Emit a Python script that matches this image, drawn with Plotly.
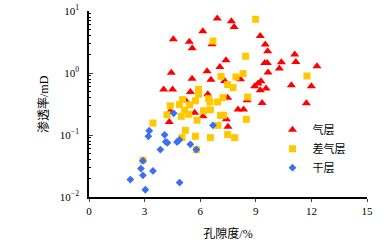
import plotly.graph_objects as go

# 气层 (gas layer)
gas_x = [4.55, 5.41, 5.57, 6.14, 6.92, 7.68, 7.83, 6.64, 9.24, 9.51, 9.64, 4.44, 5.56, 6.37, 6.58,
         7.06, 7.39, 4.03, 4.51, 5.47, 6.41, 5.70, 6.15, 4.33, 7.41, 7.50, 7.48, 8.04, 8.34, 8.53,
         8.17, 7.32, 8.94, 9.12, 9.28, 9.24, 9.55, 9.34, 9.48, 9.62, 9.66, 10.27, 10.38, 11.10,
         11.16, 12.30, 10.92, 12.00, 11.73, 4.39, 5.20]
gas_y = [3.50, 3.19, 2.50, 4.71, 7.54, 6.82, 5.52, 2.90, 3.95, 2.87, 2.24, 1.01, 0.806, 1.065, 0.777,
         1.25, 1.60, 0.540, 0.540, 0.494, 0.453, 0.228, 0.200, 0.162, 0.179, 0.136, 0.398, 0.257, 0.257, 0.363,
         0.791, 0.743, 0.610, 0.675, 0.735, 0.526, 0.560, 0.328, 1.45, 1.45, 1.015, 1.18, 1.49, 1.99,
         1.50, 1.28, 0.633, 0.610, 0.325, 0.241, 0.363]

# 差气层 (poor gas layer)
poor_x = [8.99, 6.69, 8.45, 8.31, 7.12, 7.93, 7.48, 7.77, 11.76, 5.91, 5.91, 6.45, 6.94, 7.23, 8.56,
          5.74, 5.05, 4.39, 4.87, 5.43, 6.52, 6.18, 6.55, 5.16, 5.38, 4.21, 4.98, 5.83, 7.09, 7.26,
          6.96, 8.49, 5.74, 6.55, 7.48, 7.86, 5.79, 3.45, 2.91, 5.20, 5.02]
poor_y = [7.35, 3.28, 1.86, 0.978, 0.885, 0.862, 0.650, 0.581, 0.895, 0.546, 0.453, 0.386, 0.341, 0.401, 0.410,
          0.356, 0.372, 0.296, 0.309, 0.307, 0.341, 0.246, 0.255, 0.250, 0.216, 0.212, 0.200, 0.173, 0.208, 0.208,
          0.143, 0.179, 0.0953, 0.0908, 0.1015, 0.0908, 0.0581, 0.156, 0.0391, 0.119, 0.0908]

# 干层 (dry layer)
dry_x = [4.57, 3.25, 3.20, 4.08, 4.14, 4.23, 4.75, 4.88, 5.47, 5.79, 3.85, 2.91, 2.80, 2.91, 3.45,
         2.23, 3.04, 4.89, 6.69]
dry_y = [0.224, 0.117, 0.0953, 0.1007, 0.0777, 0.0748, 0.0771, 0.0837, 0.0708, 0.0581, 0.0581, 0.0384,
         0.0287, 0.0224, 0.0263, 0.0191, 0.0131, 0.0171, 0.143]

x_ticks = [0, 3, 6, 9, 12, 15]
y_ticks = [0.01, 0.1, 1, 10]
y_ticktext = ["10<sup>−2</sup>", "10<sup>−1</sup>", "10<sup>0</sup>", "10<sup>1</sup>"]

SERIF = "Liberation Serif, Times New Roman, Noto Sans CJK SC, serif"

fig = go.Figure()
fig.add_trace(go.Scatter(x=gas_x, y=gas_y, mode="markers", name="气层",
                         marker=dict(symbol="triangle-up", size=8, color="#FF0000")))
fig.add_trace(go.Scatter(x=poor_x, y=poor_y, mode="markers", name="差气层",
                         marker=dict(symbol="square", size=7, color="#FFC800")))
fig.add_trace(go.Scatter(x=dry_x, y=dry_y, mode="markers", name="干层",
                         marker=dict(symbol="diamond", size=6, color="#3C6EF0")))

minor_vals = [k * 10 ** e for e in (-2, -1, 0) for k in range(2, 10)]

fig.update_layout(
    width=391, height=246,
    margin=dict(l=89, r=24, t=11, b=49),
    paper_bgcolor="white", plot_bgcolor="white",
    font=dict(family=SERIF, size=11, color="black"),
    showlegend=True,
    legend=dict(x=0.66, y=0.44, xanchor="left", yanchor="top",
                bgcolor="rgba(0,0,0,0)", font=dict(size=11, family=SERIF)),
    xaxis=dict(range=[0, 15], tickvals=x_ticks, ticks="outside", ticklen=3, tickwidth=1,
               showline=True, linecolor="black", linewidth=1.5, showgrid=False, zeroline=False,
               automargin=False, tickfont=dict(size=11, family=SERIF),
               title=dict(text="孔隙度/%", font=dict(size=12, family=SERIF), standoff=14)),
    yaxis=dict(type="log", range=[-2, 1], tickvals=y_ticks, ticktext=y_ticktext,
               ticks="inside", ticklen=4, tickwidth=1,
               minor=dict(tickvals=minor_vals, ticks="inside", ticklen=2, tickwidth=1, tickcolor="black"),
               showline=True, linecolor="black", linewidth=1.5, showgrid=False, zeroline=False,
               automargin=False, tickfont=dict(size=11, family=SERIF), ticklabelstandoff=6),
    annotations=[dict(text="渗透率/mD", xref="paper", yref="paper", x=0, y=0.5,
                      xanchor="center", yanchor="middle", xshift=-46, textangle=-90,
                      showarrow=False, font=dict(size=12, family=SERIF))],
)

fig.write_html("out.html", config={"displayModeBar": False},
               post_script="document.body.style.margin='0';document.body.style.overflow='hidden';")
